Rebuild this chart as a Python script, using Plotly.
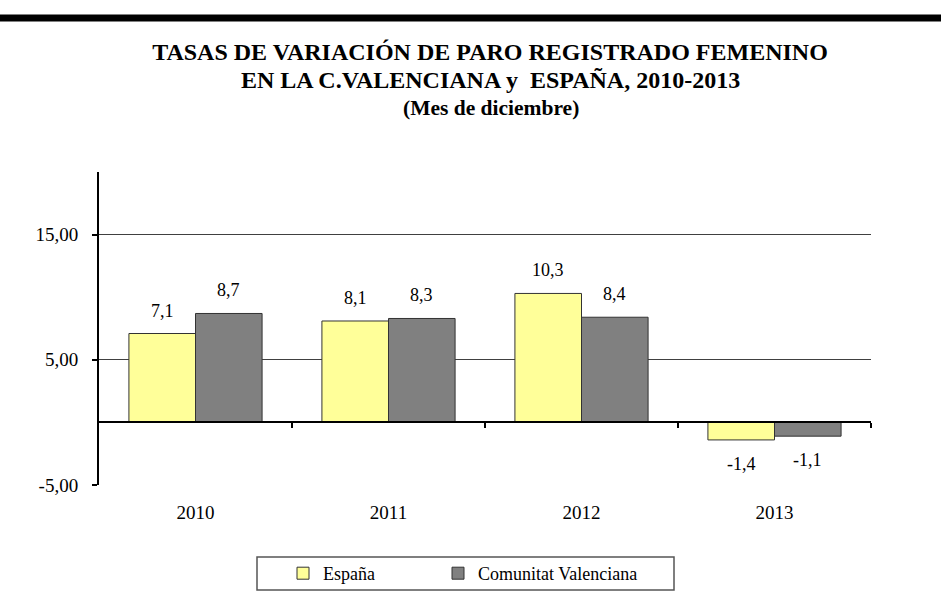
import plotly.graph_objects as go

years = ["2010", "2011", "2012", "2013"]
espana = [7.1, 8.1, 10.3, -1.4]
cvalenciana = [8.7, 8.3, 8.4, -1.1]
series_names = ["España", "Comunitat Valenciana"]
y_tick_vals = [-5, 5, 15]
title_lines = ["TASAS DE VARIACIÓN DE PARO REGISTRADO FEMENINO",
               "EN LA C.VALENCIANA y  ESPAÑA, 2010-2013",
               "(Mes de diciembre)"]

FONT = "Liberation Serif, Times New Roman, serif"
W, H = 941, 614
ML, MR, MT, MB = 99, 70, 172, 129
PW = W - ML - MR
PH = H - MT - MB
BARGAP = 0.31


def fmt(v, nd=1):
    return f"{v:.{nd}f}".replace(".", ",")


def px_x(X):
    return (X - ML) / PW


def px_y(Y):
    return (PH - (Y - MT)) / PH


fig = go.Figure()
fig.add_trace(go.Bar(
    x=years, y=espana, name=series_names[0], legend="legend",
    marker=dict(color="#FFFF99", line=dict(color="#333333", width=1)),
    hoverinfo="skip",
))
fig.add_trace(go.Bar(
    x=years, y=cvalenciana, name=series_names[1], legend="legend2",
    marker=dict(color="#808080", line=dict(color="#333333", width=1)),
    hoverinfo="skip",
))
# invisible trace hosting the zero-line axis with its boundary ticks
fig.add_trace(go.Scatter(x=[], y=[], xaxis="x2", yaxis="y", showlegend=False,
                         hoverinfo="skip"))

# data labels
cat_w = PW / len(years)
bar_w = cat_w * (1 - BARGAP) / 2
annotations = []
for vals, sgn in ((espana, -1), (cvalenciana, 1)):
    for i, v in enumerate(vals):
        annotations.append(dict(
            x=i, y=v, xref="x", yref="y", text=fmt(v), showarrow=False,
            xshift=sgn * bar_w / 2,
            yanchor="bottom" if v >= 0 else "top",
            yshift=11 if v >= 0 else -12,
            font=dict(family=FONT, size=18, color="#000000"),
        ))

# title lines 2 and 3
annotations.append(dict(
    xref="paper", yref="paper", x=px_x(490), y=px_y(79.5),
    xanchor="center", yanchor="middle", showarrow=False,
    text=f"<b>{title_lines[1]}</b>",
    font=dict(family=FONT, size=24, color="#000000"),
))
annotations.append(dict(
    xref="paper", yref="paper", x=px_x(491), y=px_y(108),
    xanchor="center", yanchor="middle", showarrow=False,
    text=f"<b>{title_lines[2]}</b>",
    font=dict(family=FONT, size=21.5, color="#000000"),
))

legend_common = dict(
    orientation="h", xanchor="left", yanchor="middle",
    y=px_y(573.5), bgcolor="rgba(0,0,0,0)", borderwidth=0,
    font=dict(family=FONT, size=18, color="#000000"),
)

fig.update_layout(
    width=W, height=H,
    margin=dict(l=ML, r=MR, t=MT, b=MB, pad=0, autoexpand=False),
    paper_bgcolor="white", plot_bgcolor="white",
    barmode="group", bargap=BARGAP, bargroupgap=0,
    separators=",.",
    font=dict(family=FONT, size=18, color="#000000"),
    title=dict(
        text=f"<b>{title_lines[0]}</b>",
        font=dict(family=FONT, size=24, color="#000000"),
        xref="container", x=490 / W, xanchor="center",
        yref="container", y=1 - 52 / H, yanchor="middle",
    ),
    xaxis=dict(
        type="category", categoryorder="array", categoryarray=years,
        range=[-0.5, len(years) - 0.5],
        showline=False, showgrid=False, zeroline=False, ticks="",
        tickfont=dict(family=FONT, size=19), ticklabelstandoff=14,
    ),
    xaxis2=dict(
        overlaying="x", anchor="free", position=5 / 25,
        range=[-0.5, len(years) - 0.5], showgrid=False, zeroline=False,
        showline=True, linecolor="#000000", linewidth=2,
        tickvals=[i + 0.5 for i in range(len(years))],
        ticks="outside", ticklen=5, tickwidth=2, tickcolor="#000000",
        showticklabels=False, side="bottom",
    ),
    yaxis=dict(
        range=[-5, 20], tickvals=y_tick_vals,
        ticktext=[fmt(v, 2) for v in y_tick_vals],
        showgrid=True, gridcolor="#404040", gridwidth=1,
        zeroline=False,
        showline=True, linecolor="#000000", linewidth=2,
        ticks="outside", ticklen=5, tickwidth=2, tickcolor="#000000",
        tickfont=dict(family=FONT, size=19), ticklabelstandoff=10,
    ),
    showlegend=True,
    legend=dict(x=px_x(283), **legend_common),
    legend2=dict(x=px_x(438), **legend_common),
    annotations=annotations,
    shapes=[
        dict(type="line", xref="paper", yref="paper",
             x0=px_x(0), x1=px_x(W),
             y0=px_y(18), y1=px_y(18),
             line=dict(color="#000000", width=7)),
        dict(type="rect", xref="paper", yref="paper",
             x0=px_x(257), x1=px_x(674),
             y0=px_y(557), y1=px_y(590),
             line=dict(color="#555555", width=1.5), fillcolor="rgba(0,0,0,0)"),
    ],
)

fig.write_html("out.html",
               config={"displayModeBar": False},
               post_script="document.body.style.margin='0';")
